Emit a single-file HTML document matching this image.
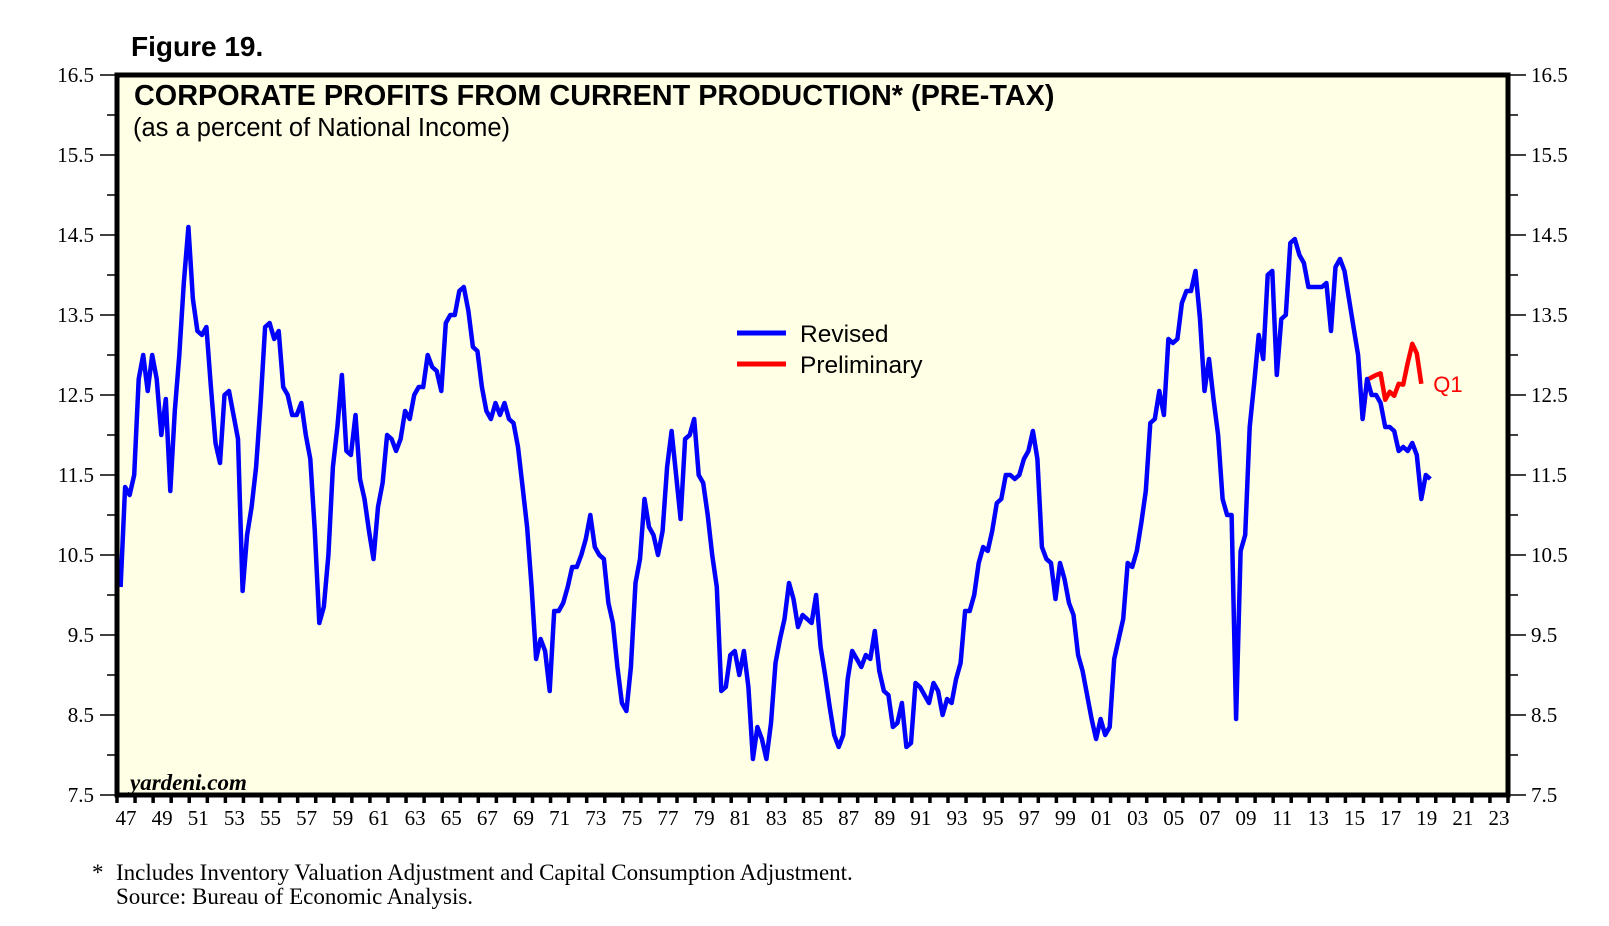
<!DOCTYPE html>
<html><head><meta charset="utf-8"><style>
body{margin:0;background:#fff;}
svg{display:block;}
</style></head><body>
<svg id="chart" width="1609" height="926" xmlns="http://www.w3.org/2000/svg">
<rect x="117" y="75" width="1391" height="720" fill="#ffffe6"/>
<g id="axes"></g>
<g id="series"></g>
<rect x="117" y="75" width="1391" height="720" fill="none" stroke="#000" stroke-width="5"/>
<text x="131" y="56" font-family="Liberation Sans, sans-serif" font-weight="bold" font-size="28">Figure 19.</text>
<text x="134" y="105" font-family="Liberation Sans, sans-serif" font-weight="bold" font-size="28.8">CORPORATE PROFITS FROM CURRENT PRODUCTION* (PRE-TAX)</text>
<text x="133" y="136" font-family="Liberation Sans, sans-serif" font-size="25.5">(as a percent of National Income)</text>
<line x1="737" y1="333" x2="786" y2="333" stroke="#0000ff" stroke-width="5"/>
<text x="800" y="342" font-family="Liberation Sans, sans-serif" font-size="24.5">Revised</text>
<line x1="737" y1="364" x2="786" y2="364" stroke="#ff0000" stroke-width="5"/>
<text x="800" y="373" font-family="Liberation Sans, sans-serif" font-size="24.5">Preliminary</text>
<text x="130" y="790" font-family="Liberation Serif, serif" font-weight="bold" font-style="italic" font-size="23">yardeni.com</text>
<text x="92" y="880" font-family="Liberation Serif, serif" font-size="23">*</text>
<text x="116" y="880" font-family="Liberation Serif, serif" font-size="23">Includes Inventory Valuation Adjustment and Capital Consumption Adjustment.</text>
<text x="116" y="904" font-family="Liberation Serif, serif" font-size="23">Source: Bureau of Economic Analysis.</text>
</svg>
<script>
const revisedStart = 1947.2;
const revised = [
10.1,11.35,11.25,11.5, 12.7,13.0,12.55,13.0, 12.7,12.0,12.45,11.3, 12.3,13.0,13.9,14.6,
13.7,13.3,13.25,13.35, 12.6,11.9,11.65,12.5, 12.55,12.25,11.95,10.05, 10.75,11.1,11.6,12.4,
13.35,13.4,13.2,13.3, 12.6,12.5,12.25,12.25, 12.4,12.0,11.7,10.8, 9.65,9.85,10.5,11.6,
12.1,12.75,11.8,11.75, 12.25,11.45,11.2,10.8, 10.45,11.1,11.4,12.0, 11.95,11.8,11.95,12.3,
12.2,12.5,12.6,12.6, 13.0,12.85,12.8,12.55, 13.4,13.5,13.5,13.8, 13.85,13.55,13.1,13.05,
12.6,12.3,12.2,12.4, 12.25,12.4,12.2,12.15, 11.85,11.35,10.85,10.1, 9.2,9.45,9.3,8.8,
9.8,9.8,9.9,10.1, 10.35,10.35,10.5,10.7, 11.0,10.6,10.5,10.45, 9.9,9.65,9.1,8.65,
8.55,9.1,10.15,10.45, 11.2,10.85,10.75,10.5, 10.8,11.6,12.05,11.5, 10.95,11.95,12.0,12.2,
11.5,11.4,11.0,10.5, 10.1,8.8,8.85,9.25, 9.3,9.0,9.3,8.85, 7.95,8.35,8.2,7.95,
8.4,9.15,9.45,9.7, 10.15,9.95,9.6,9.75, 9.7,9.65,10.0,9.35, 9.0,8.6,8.25,8.1,
8.25,8.95,9.3,9.2, 9.1,9.25,9.2,9.55, 9.05,8.8,8.75,8.35, 8.4,8.65,8.1,8.15,
8.9,8.85,8.75,8.65, 8.9,8.8,8.5,8.7, 8.65,8.95,9.15,9.8, 9.8,10.0,10.4,10.6,
10.55,10.8,11.15,11.2, 11.5,11.5,11.45,11.5, 11.7,11.8,12.05,11.7, 10.6,10.45,10.4,9.95,
10.4,10.2,9.9,9.75, 9.25,9.05,8.75,8.45, 8.2,8.45,8.25,8.35, 9.2,9.45,9.7,10.4,
10.35,10.55,10.9,11.3, 12.15,12.2,12.55,12.25, 13.2,13.15,13.2,13.65, 13.8,13.8,14.05,13.45,
12.55,12.95,12.45,12.0, 11.2,11.0,11.0,8.45, 10.55,10.75,12.1,12.65, 13.25,12.95,14.0,14.05,
12.75,13.45,13.5,14.4, 14.45,14.25,14.15,13.85, 13.85,13.85,13.85,13.9, 13.3,14.1,14.2,14.05,
13.7,13.35,13.0,12.2, 12.7,12.5,12.5,12.4, 12.1,12.1,12.05,11.8, 11.85,11.8,11.9,11.75,
11.2,11.5,11.45
];
const prelimStart = 2015.95;
const preliminary = [12.2,12.69,12.72,12.75,12.77,12.44,12.54,12.49,12.64,12.63,12.9,13.14,13.02,12.64];
const yTicks = [7.5,8.5,9.5,10.5,11.5,12.5,13.5,14.5,15.5,16.5];
const yTickLabels = ["7.5","8.5","9.5","10.5","11.5","12.5","13.5","14.5","15.5","16.5"];
const xYearLabels = ["47","49","51","53","55","57","59","61","63","65","67","69","71","73","75","77","79","81","83","85","87","89","91","93","95","97","99","01","03","05","07","09","11","13","15","17","19","21","23"];

const NS = "http://www.w3.org/2000/svg";
const X0 = 117, X1 = 1508, Y0 = 75, Y1 = 795;
const yearMin = 1947, yearMax = 2024, vMin = 7.5, vMax = 16.5;
const xs = t => X0 + (t - yearMin) / (yearMax - yearMin) * (X1 - X0);
const ys = v => Y1 - (v - vMin) / (vMax - vMin) * (Y1 - Y0);
function mk(tag, attrs, parent){const e=document.createElementNS(NS,tag);for(const k in attrs)e.setAttribute(k,attrs[k]);parent.appendChild(e);return e;}
const axes = document.getElementById('axes');
const series = document.getElementById('series');

yTicks.forEach((v,i)=>{
  const y = ys(v);
  let l = mk('line',{x1:100,y1:y,x2:117,y2:y,stroke:'#000','stroke-width':1.5},axes);
  
  
  let r = mk('line',{x1:1508,y1:y,x2:1526,y2:y,stroke:'#000','stroke-width':1.5},axes);
  
  
  if(i<yTicks.length-1){
    const ym = ys(v+0.5);
    let lm = mk('line',{x1:107,y1:ym,x2:117,y2:ym,stroke:'#000','stroke-width':1.5},axes);
    
    
    let rm = mk('line',{x1:1508,y1:ym,x2:1518,y2:ym,stroke:'#000','stroke-width':1.5},axes);
    
    
  }
  let t = mk('text',{x:94,y:y+7,'text-anchor':'end','font-family':'Liberation Serif, serif','font-size':21},axes);
  t.textContent = yTickLabels[i];
  
  
  let t2 = mk('text',{x:1531,y:y+7,'font-family':'Liberation Serif, serif','font-size':21},axes);
  t2.textContent = yTickLabels[i];
  
  
});
for(let yr=yearMin; yr<=yearMax; yr++){
  const x = xs(yr);
  let tk = mk('line',{x1:x,y1:795,x2:x,y2:803,stroke:'#000','stroke-width':3.5},axes);
  
  
}
xYearLabels.forEach((lab,i)=>{
  const yr = 1947 + i*2 + 0.5;
  let t = mk('text',{x:xs(yr),y:825,'text-anchor':'middle','font-family':'Liberation Serif, serif','font-size':21},axes);
  t.textContent = lab;
  
  
});

function pathFrom(arr,start){return arr.map((v,i)=>(i?'L':'M')+xs(start+i*0.25).toFixed(1)+' '+ys(v).toFixed(1)).join(' ');}
let pr = mk('path',{d:pathFrom(preliminary,prelimStart),fill:'none',stroke:'#ff0000','stroke-width':4.5,'stroke-linejoin':'round'},series);


let rv = mk('path',{d:pathFrom(revised,revisedStart),fill:'none',stroke:'#0000ff','stroke-width':4.5,'stroke-linejoin':'round'},series);


const lastP = preliminary[preliminary.length-1];
let q = mk('text',{x:xs(prelimStart+(preliminary.length-1)*0.25)+12,y:ys(lastP)+8,fill:'#ff0000','font-family':'Liberation Sans, sans-serif','font-size':22},series);
q.textContent = 'Q1';


</script>
</body></html>
